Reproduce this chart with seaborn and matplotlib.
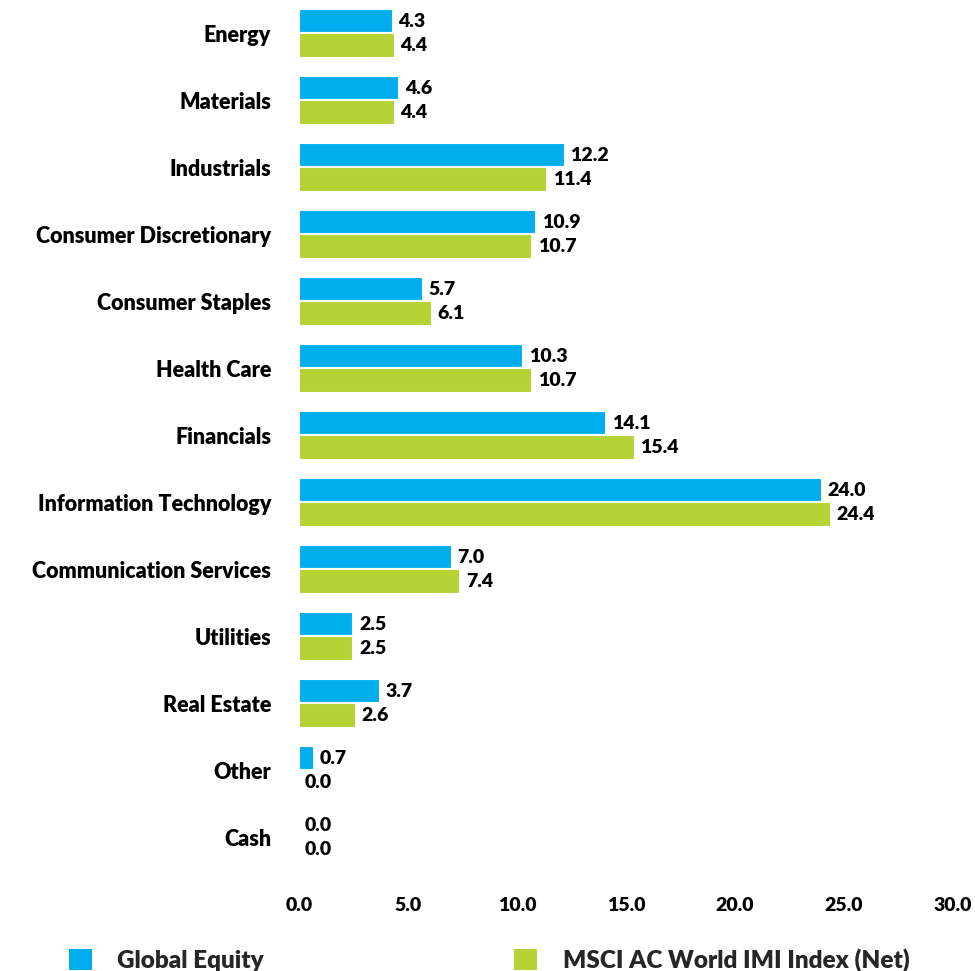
import pandas as pd
import matplotlib.pyplot as plt
import seaborn as sns
from matplotlib.patches import Patch

# Sector weights (%)
sectors = ["Energy", "Materials", "Industrials", "Consumer Discretionary",
           "Consumer Staples", "Health Care", "Financials",
           "Information Technology", "Communication Services", "Utilities",
           "Real Estate", "Other", "Cash"]
global_equity = [4.3, 4.6, 12.2, 10.9, 5.7, 10.3, 14.1, 24.0, 7.0, 2.5, 3.7, 0.7, 0.0]
msci_index = [4.4, 4.4, 11.4, 10.7, 6.1, 10.7, 15.4, 24.4, 7.4, 2.5, 2.6, 0.0, 0.0]
series_names = ["Global Equity", "MSCI AC World IMI Index (Net)"]
colors = ["#00AEEF", "#B5D334"]
x_ticks = [0, 5, 10, 15, 20, 25, 30]

df = pd.DataFrame({
    "Sector": sectors * 2,
    "Weight": global_equity + msci_index,
    "Series": [series_names[0]] * len(sectors) + [series_names[1]] * len(sectors),
})

sns.set_style("white")
plt.rcParams["font.family"] = ["Lato", "DejaVu Sans"]
W = "heavy"

fig = plt.figure(figsize=(9.75, 9.71), dpi=100)
ax = fig.add_axes([0.3067, 0.103, 0.6703, 0.897])

sns.barplot(data=df, y="Sector", x="Weight", hue="Series", orient="h",
            palette=colors, saturation=1, width=0.74, edgecolor="white",
            linewidth=1.5, ax=ax, legend=False)

for cont in ax.containers:
    ax.bar_label(cont, fmt="%.1f", padding=4, fontsize=14, fontweight=W, color="black")

ax.set_xlim(0, 30)
ax.set_ylim(len(sectors) - 0.5, -0.5)
ax.set_xticks(x_ticks)
ax.set_xticklabels([f"{t:.1f}" for t in x_ticks], fontsize=14, fontweight=W)
ax.set_yticks(range(len(sectors)))
ax.set_yticklabels(sectors, fontsize=15.5, fontweight=W)
ax.tick_params(axis="y", pad=20, length=0, labelcolor="black")
ax.tick_params(axis="x", pad=19, length=0, labelcolor="black")
ax.set_xlabel("")
ax.set_ylabel("")
for s in ax.spines.values():
    s.set_visible(False)
ax.grid(False)

handles = [Patch(facecolor=c, edgecolor="none") for c in colors]
fig.legend(handles, series_names, loc="lower left", bbox_to_anchor=(0.048, -0.024),
           ncol=2, frameon=False, handlelength=0.95, handleheight=0.95,
           handletextpad=1.05, columnspacing=10.3,
           prop={"weight": W, "size": 17.5})

fig.savefig("out.png", dpi=100)
